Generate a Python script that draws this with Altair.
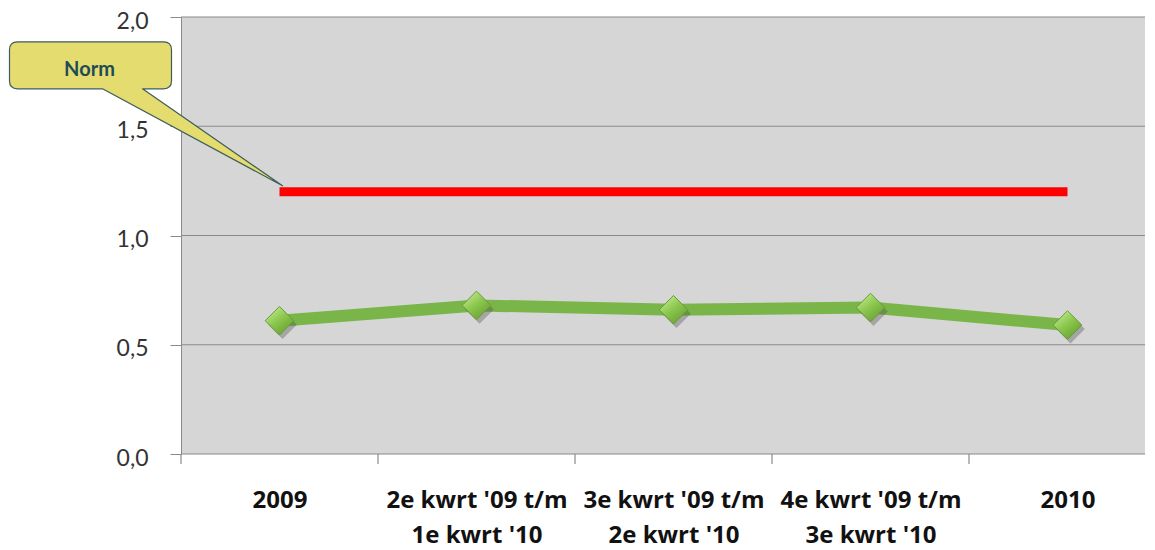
import json
import altair as alt
import pandas as pd

categories = ["2009", "2e kwrt '09 t/m|1e kwrt '10", "3e kwrt '09 t/m|2e kwrt '10",
              "4e kwrt '09 t/m|3e kwrt '10", "2010"]
values = [0.61, 0.68, 0.66, 0.67, 0.59]
norm_value = 1.2
norm_label = "Norm"
y_ticks = [0.0, 0.5, 1.0, 1.5, 2.0]

idx = list(range(len(categories)))
df = pd.DataFrame({"idx": idx, "cat": categories, "val": values})
df_norm = pd.DataFrame({"idx": [idx[0], idx[-1]], "val": [norm_value, norm_value]})
df_call = pd.DataFrame({"idx": [idx[0]], "val": [norm_value], "label": [norm_label]})
df_edges = pd.DataFrame({"idx": [i - 0.5 for i in idx]})
df_grid = pd.DataFrame({"val": y_ticks})

W, H = 964, 437
STEP = 197  # pixel width of one category slot
x_scale = alt.Scale(domain=[-0.5, (W - STEP / 2) / STEP], nice=False, zero=False)
x_axis = alt.Axis(values=idx, labelAngle=0,
                  labelExpr="split(" + json.dumps(categories) + "[datum.value], '|')",
                  labelFont="Open Sans", labelFontWeight="bold", labelFontSize=24,
                  labelColor="#111111", labelLineHeight=35, labelBaseline="top",
                  labelPadding=24, labelFlush=False, labelOverlap=False,
                  tickSize=10, tickOpacity=0, domain=False,
                  labelLimit=400, grid=False)
y_scale = alt.Scale(domain=[0, 2], nice=False)
y_axis = alt.Axis(values=y_ticks, labelExpr="replace(format(datum.value, '.1f'), '.', ',')",
                  labelFont="Lato", labelFontSize=23, labelColor="#333333",
                  labelPadding=22, labelOffset=4, tickSize=11, tickColor="#8a8a8a",
                  domainColor="#8a8a8a", grid=False)

x_enc = alt.X("idx:Q", title=None, scale=x_scale, axis=x_axis)
y_enc = alt.Y("val:Q", title=None, scale=y_scale, axis=y_axis)

grid = alt.Chart(df_grid).mark_rule(color="#8a8a8a", strokeWidth=1.2).encode(
    y=y_enc, x=alt.value(0), x2=alt.value(W))

ticks = alt.Chart(df_edges).mark_rule(color="#8a8a8a", strokeWidth=1.2).encode(
    x=x_enc, y=alt.value(H), y2=alt.value(H + 10))

line = alt.Chart(df).mark_line(color="#79b548", strokeWidth=12, strokeCap="butt").encode(x=x_enc, y=y_enc)

shadow = alt.Chart(df).mark_point(shape="diamond", size=820, filled=True, color="#4a4a4a",
                                  opacity=0.35, xOffset=3, yOffset=4).encode(x=x_enc, y=y_enc)

diamond_fill = alt.Gradient(gradient="linear", x1=0.2, y1=0.1, x2=0.8, y2=0.9,
                            stops=[alt.GradientStop(color="#bde68a", offset=0),
                                   alt.GradientStop(color="#8cc84e", offset=0.45),
                                   alt.GradientStop(color="#6aa234", offset=1)])
points = alt.Chart(df).mark_point(shape="diamond", size=820, filled=True, fill=diamond_fill,
                                  stroke="#6a9a38", strokeWidth=1, opacity=1).encode(x=x_enc, y=y_enc)

norm = alt.Chart(df_norm).mark_line(color="#ff0000", strokeWidth=9, strokeCap="butt").encode(x=x_enc, y=y_enc)

callout_path = ("M -262 -150 L -116 -150 Q -108 -150 -108 -142 L -108 -111 Q -108 -103 -116 -103 "
                "L -137 -103 L 3 -6 L -177 -103 L -262 -103 Q -270 -103 -270 -111 L -270 -142 "
                "Q -270 -150 -262 -150 Z")
callout = alt.Chart(df_call).mark_point(shape=callout_path, size=4, filled=True, fill="#e4dc6e",
                                        stroke="#3d5c5c", strokeWidth=1.2, strokeJoin="round",
                                        opacity=1).encode(x=x_enc, y=y_enc)
callout_text = alt.Chart(df_call).mark_text(font="Lato", fontWeight="bold", fontSize=20,
                                            baseline="middle", color="#1f4b57",
                                            dx=-190, dy=-122).encode(
    x=x_enc, y=y_enc, text="label:N")

chart = alt.layer(grid, ticks, line, shadow, points, norm, callout, callout_text).properties(
    width=W, height=H, padding={"left": 0, "top": 2, "right": 0, "bottom": 0}, background="white"
).configure_view(fill="#d6d6d6", stroke=None)

chart.save("out.html", embed_options={"renderer": "svg", "actions": False})
